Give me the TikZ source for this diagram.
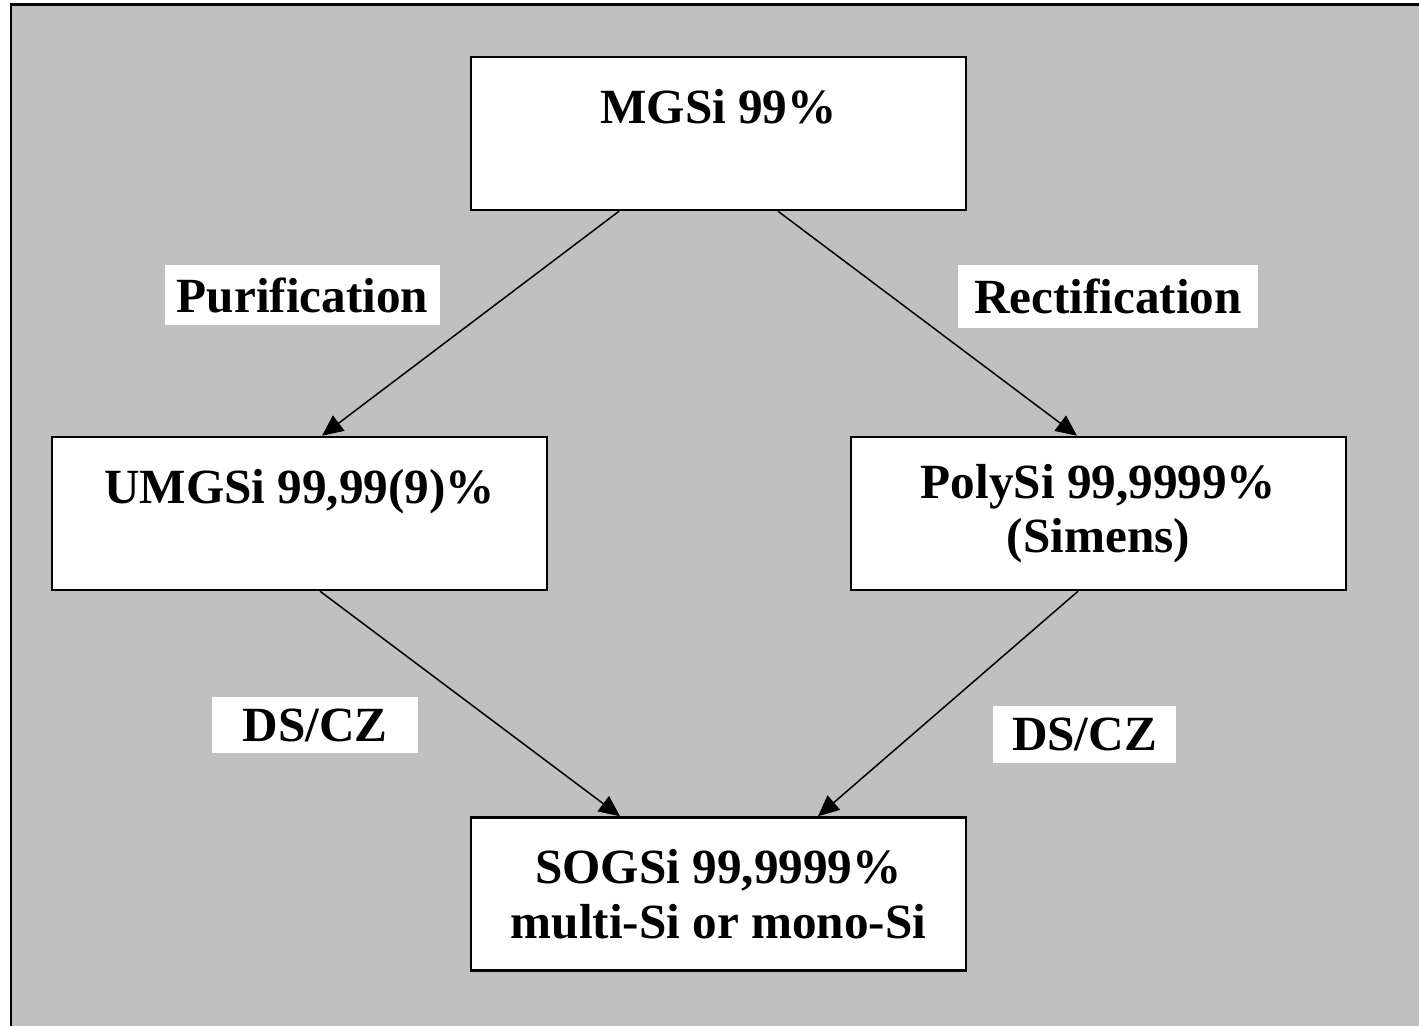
\documentclass[tikz,border=0pt]{standalone}
\usepackage{fontspec}
\setmainfont{Liberation Serif}
\usepackage{tikz}
\usetikzlibrary{arrows.meta}
\definecolor{bggray}{RGB}{192,192,192}

\begin{document}
\begin{tikzpicture}[x=0.02cm,y=-0.02cm,
        >={Triangle[length=0.42cm,width=0.38cm]},
        font=\fontsize{28}{31}\selectfont\bfseries]
            \useasboundingbox (0,0) rectangle (1419,1026);
            \fill[white] (0,0) rectangle (1419,1026);
            \fill[bggray] (11,5) rectangle (1419,1026);
            \draw[line width=0.06cm] (11,1026) -- (11,5) -- (1419,5);

            \begin{scope}[every node/.style={rectangle,draw,fill=white,line width=0.05cm,
                    align=center,minimum width=9.9cm,minimum height=3.06cm}]
                \node (mgsi) at (718.5,133.5) {MGSi 99\%\\[-9pt]\strut};
                \node (umgsi) at (299.5,513.5) {UMGSi 99,99(9)\%\\[-9pt]\strut};
                \node (polysi) at (1098.5,513.5) {PolySi 99,9999\%\\(Simens)};
                \node (sogsi) at (718.5,894) {SOGSi 99,9999\%\\multi-Si or mono-Si};
            \end{scope}

            \begin{scope}[every node/.style={rectangle,fill=white,inner sep=0pt}]
                \node[minimum width=5.5cm,minimum height=1.2cm] (purif) at (302.5,295) {Purification};
                \node[minimum width=6cm,minimum height=1.26cm] (rectif) at (1108,296.5) {Rectification};
                \node[minimum width=4.12cm,minimum height=1.12cm] (dscza) at (315,725) {DS/CZ};
                \node[minimum width=3.66cm,minimum height=1.14cm] (dsczb) at (1084.5,734.5) {DS/CZ};
            \end{scope}

            \begin{scope}[line width=0.03cm]
                \path [->] ([xshift=-1.99cm]mgsi.south) edge ([xshift=0.45cm]umgsi.north);
                \path [->] ([xshift=1.19cm]mgsi.south) edge ([xshift=-0.43cm]polysi.north);
                \path [->] ([xshift=0.41cm]umgsi.south) edge ([xshift=-1.97cm]sogsi.north);
                \path [->] ([xshift=-0.41cm]polysi.south) edge ([xshift=1.99cm]sogsi.north);
            \end{scope}
            \end{tikzpicture}
\end{document}
